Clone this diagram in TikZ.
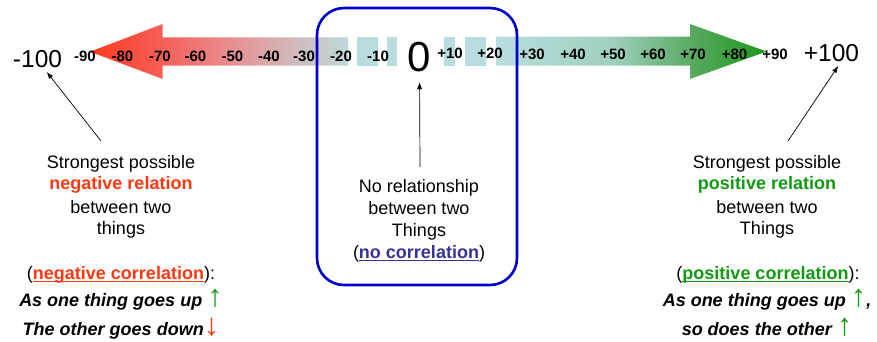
\documentclass[tikz,border=0pt]{standalone}
\usepackage{fontspec}
\setmainfont{Liberation Sans}
\usetikzlibrary{arrows.meta}

\definecolor{negred}{HTML}{FF3811}
\definecolor{posgreen}{HTML}{119A11}
\definecolor{boxblue}{HTML}{0000CC}
\definecolor{ncblue}{HTML}{333399}
\definecolor{tealbox}{HTML}{B8DDDF}
% colour stops of the two shaded arrows
\definecolor{negA}{HTML}{FF3A1E}
\definecolor{negB}{HTML}{F55F58}
\definecolor{negC}{HTML}{E79092}
\definecolor{negD}{HTML}{CDC0C2}
\definecolor{negE}{HTML}{BED8DA}
\definecolor{posA}{HTML}{B8DEDE}
\definecolor{posB}{HTML}{A0CFBF}
\definecolor{posC}{HTML}{57A95F}
\definecolor{posD}{HTML}{1C981C}

\pgfdeclarehorizontalshading{negshade}{100bp}{color(0bp)=(negA); color(25bp)=(negA);
  color(39bp)=(negB); color(52.5bp)=(negC); color(66.5bp)=(negD); color(75bp)=(negE); color(100bp)=(negE)}
\pgfdeclarehorizontalshading{posshade}{100bp}{color(0bp)=(posA); color(25bp)=(posA);
  color(46.5bp)=(posB); color(61.5bp)=(posC); color(75bp)=(posD); color(100bp)=(posD)}

% underline with a fixed offset below the baseline
\newcommand{\myul}[1]{\setbox0\hbox{#1}\rlap{\rule[-2.8pt]{\wd0}{1.1pt}}\box0}
% coloured direction arrows set beside the italic lines
\newcommand{\dirup}{{\normalfont\color{posgreen}\fontsize{31}{31}\selectfont ↑}}
\newcommand{\dirdown}{{\normalfont\color{negred}\fontsize{31}{31}\selectfont ↓}}

\begin{document}
\begin{tikzpicture}[x=1pt,y=-1pt,
  txt/.style={font=\fontsize{18}{22}\selectfont, anchor=base, inner sep=0pt},
  boldtxt/.style={txt, font=\bfseries\fontsize{18}{22}\selectfont},
  ittxt/.style={txt, font=\bfseries\itshape\fontsize{18}{22}\selectfont},
  tick/.style={font=\bfseries\fontsize{15}{16}\selectfont, anchor=base, inner sep=0pt},
  endlbl/.style={font=\fontsize{24.5}{28}\selectfont, anchor=base, inner sep=0pt, outer sep=4pt},
  zerolbl/.style={font=\fontsize{42}{46}\selectfont, anchor=base, inner sep=0pt},
  conn/.style={-{Latex[length=7pt,width=5pt]}, line width=0.7pt, black}]
\useasboundingbox (0,0) rectangle (877,341);

% negative arrow
\shade[shading=negshade] (90,51.7) -- (162.7,24) -- (162.7,37.3) -- (348,37.3)
  -- (348,65.7) -- (162.7,65.7) -- (162.7,79) -- cycle;
\fill[tealbox] (357,37.3) rectangle (377.7,65.7);
\fill[tealbox] (386.7,37.3) rectangle (396.7,65.7);
% positive arrow
\fill[tealbox] (444,36.7) rectangle (455,65.7);
\fill[tealbox] (465,36.7) rectangle (486,65.7);
\shade[shading=posshade] (496,36.7) -- (690,36.7) -- (690,24) -- (766.7,51.5)
  -- (690,79) -- (690,65.7) -- (496,65.7) -- cycle;

% scale labels
\foreach \v/\x in {90/85,80/122.5,70/160,60/195.5,50/232.5,40/269,30/304,20/341,10/378}
  \node[tick] (tm\v) at (\x,61) {-\v};
\foreach \v/\x/\y in {10/450/58.3,20/490/58.3,30/532/59.5,40/573/59.5,50/613/59.5,
  60/653/59.5,70/693/59.5,80/734.5/59.5,90/775/59.5}
  \node[tick] (tp\v) at (\x,\y) {+\v};
\node[endlbl] (m100) at (37.5,67.7) {-100};
\node[endlbl] (p100) at (831.5,61.7) {+100};
\node[zerolbl] (zero) at (419.5,71.5) {0};

% frame round the zero
\draw[boxblue, line width=2.6pt, rounded corners=27pt] (317,8) rectangle (517,285);

% left column
\node[txt] (neg1) at (121,168.3) {Strongest possible};
\node[boldtxt, text=negred] (neg2) at (121,189.5) {negative relation};
\node[txt] (neg3) at (121,213) {between two};
\node[txt] (neg4) at (121,234) {things};
\node[txt] (neg5) at (121,279) {(\textcolor{negred}{\bfseries\myul{negative correlation}}):};
\node[ittxt] (neg6) at (121,306.7) {As one thing goes up \dirup};
\node[ittxt] (neg7) at (121,335) {The other goes down\dirdown};

% centre column
\node[txt] (no1) at (419,192.5) {No relationship};
\node[txt] (no2) at (419,214) {between two};
\node[txt] (no3) at (419,236) {Things};
\node[txt] (no4) at (419,258.5) {(\textcolor{ncblue}{\bfseries\myul{no correlation}})};

% right column
\node[txt] (pos1) at (767,168.3) {Strongest possible};
\node[boldtxt, text=posgreen] (pos2) at (767,189.5) {positive relation};
\node[txt] (pos3) at (767,213) {between two};
\node[txt] (pos4) at (767,234) {Things};
\node[txt] (pos5) at (768,279) {(\textcolor{posgreen}{\bfseries\myul{positive correlation}}):};
\node[ittxt] (pos6) at (767,306.7) {As one thing goes up \dirup,};
\node[ittxt] (pos7) at (767,335) {so does the other \dirup};

% pointers
\coordinate (negfoot) at (101,141);
\coordinate (nofoot) at (420,167);
\coordinate (posfoot) at (788,141);
\draw[conn] (negfoot) -- (m100.-54);
\draw[conn, shorten >=10pt] (nofoot) -- (zero.south);
\draw[conn] (posfoot) -- (p100.-62);
\end{tikzpicture}
\end{document}
